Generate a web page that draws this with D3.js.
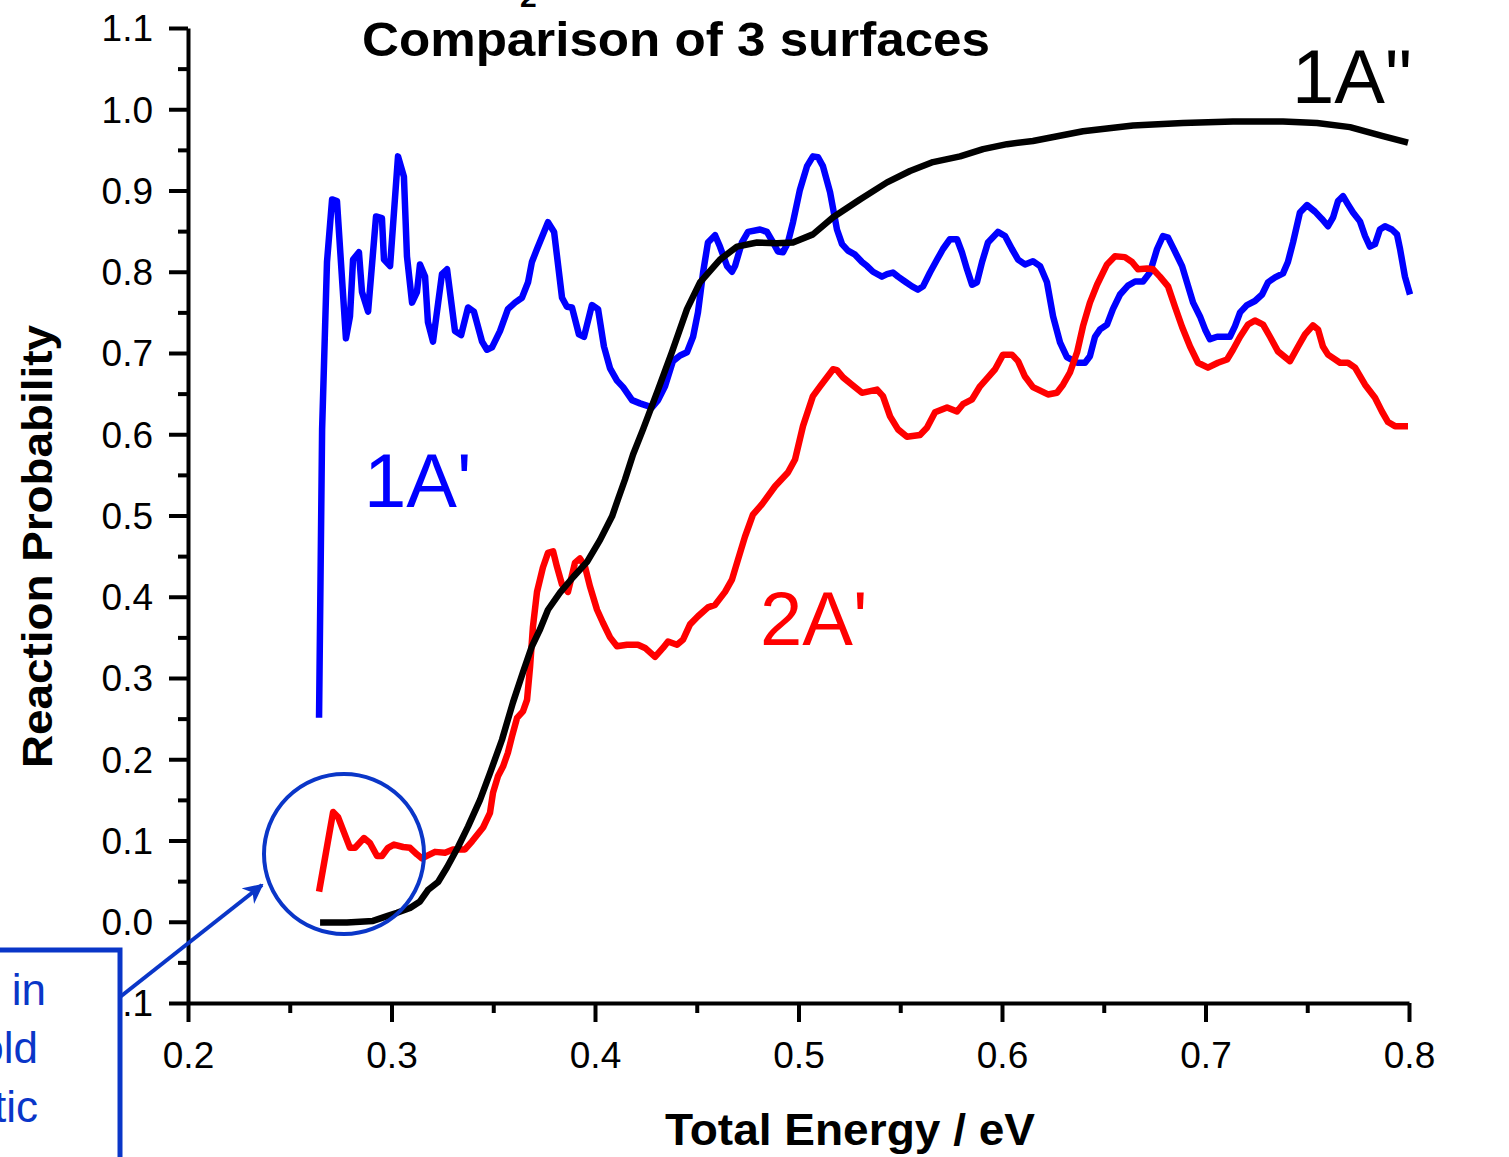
<!DOCTYPE html>
<html>
<head>
<meta charset="utf-8">
<script src="https://cdn.jsdelivr.net/npm/d3@7"></script>
<style>
  html, body { margin: 0; padding: 0; background: #fff; }
  svg { display: block; }
  text { font-family: "Liberation Sans", Arial, Helvetica, sans-serif; }
</style>
</head>
<body>
<svg id="chart" width="1509" height="1157"></svg>
<script>
// Reaction probability vs total energy (eV) on three potential surfaces
const surf1Aprime = [
  [0.2644,0.251],[0.2659,0.606],[0.2683,0.812],[0.2708,0.889],[0.2732,0.887],[0.2776,0.718],
  [0.2796,0.745],[0.2811,0.815],[0.2840,0.824],[0.2855,0.775],[0.2885,0.751],[0.2924,0.868],
  [0.2953,0.866],[0.2963,0.815],[0.2993,0.807],[0.3032,0.942],[0.3061,0.917],[0.3076,0.819],
  [0.3101,0.762],[0.3125,0.775],[0.3140,0.809],[0.3165,0.794],[0.3179,0.738],[0.3204,0.714],
  [0.3248,0.797],[0.3273,0.803],[0.3312,0.727],[0.3342,0.722],[0.3376,0.756],[0.3405,0.751],
  [0.3445,0.714],[0.3469,0.704],[0.3494,0.707],[0.3533,0.727],[0.3572,0.754],[0.3607,0.762],
  [0.3641,0.768],[0.3671,0.787],[0.3690,0.812],[0.3715,0.828],[0.3769,0.861],[0.3799,0.849],
  [0.3838,0.768],[0.3862,0.757],[0.3887,0.756],[0.3921,0.723],[0.3946,0.720],[0.3985,0.759],
  [0.4015,0.754],[0.4044,0.708],[0.4074,0.681],[0.4108,0.666],[0.4138,0.658],[0.4182,0.642],
  [0.4221,0.638],[0.4280,0.633],[0.4310,0.642],[0.4344,0.659],[0.4383,0.690],[0.4418,0.697],
  [0.4452,0.701],[0.4482,0.720],[0.4506,0.750],[0.4531,0.799],[0.4555,0.836],[0.4590,0.845],
  [0.4614,0.831],[0.4649,0.807],[0.4673,0.800],[0.4688,0.807],[0.4722,0.836],[0.4752,0.849],
  [0.4811,0.852],[0.4845,0.849],[0.4875,0.836],[0.4899,0.825],[0.4924,0.824],[0.4948,0.836],
  [0.4973,0.861],[0.5007,0.901],[0.5042,0.930],[0.5071,0.942],[0.5096,0.941],[0.5120,0.930],
  [0.5155,0.898],[0.5189,0.852],[0.5214,0.834],[0.5243,0.826],[0.5278,0.821],[0.5312,0.812],
  [0.5337,0.807],[0.5366,0.800],[0.5410,0.794],[0.5435,0.797],[0.5464,0.799],[0.5489,0.794],
  [0.5523,0.788],[0.5558,0.782],[0.5587,0.778],[0.5612,0.782],[0.5646,0.799],[0.5681,0.815],
  [0.5710,0.828],[0.5744,0.840],[0.5779,0.840],[0.5803,0.824],[0.5828,0.803],[0.5853,0.784],
  [0.5877,0.787],[0.5902,0.812],[0.5931,0.836],[0.5980,0.849],[0.6015,0.844],[0.6049,0.828],
  [0.6079,0.815],[0.6113,0.809],[0.6152,0.813],[0.6187,0.807],[0.6221,0.787],[0.6251,0.745],
  [0.6285,0.713],[0.6319,0.695],[0.6369,0.688],[0.6408,0.688],[0.6432,0.696],[0.6457,0.720],
  [0.6482,0.729],[0.6516,0.735],[0.6545,0.754],[0.6580,0.772],[0.6619,0.783],[0.6654,0.788],
  [0.6693,0.788],[0.6727,0.799],[0.6762,0.828],[0.6791,0.844],[0.6816,0.842],[0.6840,0.830],
  [0.6885,0.807],[0.6909,0.787],[0.6939,0.762],[0.6973,0.745],[0.6998,0.729],[0.7022,0.717],
  [0.7057,0.720],[0.7086,0.720],[0.7120,0.720],[0.7145,0.733],[0.7170,0.750],[0.7204,0.759],
  [0.7243,0.764],[0.7278,0.772],[0.7307,0.787],[0.7342,0.793],[0.7381,0.798],[0.7405,0.812],
  [0.7430,0.836],[0.7464,0.873],[0.7499,0.882],[0.7538,0.874],[0.7572,0.865],[0.7602,0.856],
  [0.7627,0.867],[0.7651,0.887],[0.7676,0.893],[0.7700,0.883],[0.7725,0.873],[0.7759,0.862],
  [0.7784,0.844],[0.7808,0.831],[0.7833,0.834],[0.7857,0.852],[0.7882,0.856],[0.7916,0.852],
  [0.7941,0.846],[0.7956,0.828],[0.7980,0.794],[0.8005,0.772]
];

const surf2Aprime = [
  [0.2644,0.037],[0.2713,0.135],[0.2737,0.129],[0.2796,0.091],[0.2821,0.091],[0.2865,0.103],
  [0.2894,0.097],[0.2929,0.081],[0.2953,0.081],[0.2983,0.091],[0.3012,0.095],[0.3057,0.092],
  [0.3091,0.091],[0.3125,0.083],[0.3150,0.078],[0.3174,0.081],[0.3214,0.086],[0.3263,0.085],
  [0.3302,0.089],[0.3361,0.089],[0.3396,0.099],[0.3450,0.116],[0.3484,0.134],[0.3499,0.159],
  [0.3523,0.179],[0.3548,0.191],[0.3572,0.208],[0.3592,0.228],[0.3617,0.251],[0.3646,0.259],
  [0.3666,0.273],[0.3681,0.314],[0.3695,0.363],[0.3715,0.406],[0.3744,0.436],[0.3769,0.454],
  [0.3794,0.456],[0.3813,0.437],[0.3838,0.415],[0.3867,0.406],[0.3902,0.442],[0.3926,0.447],
  [0.3951,0.437],[0.3975,0.413],[0.4010,0.384],[0.4039,0.368],[0.4074,0.350],[0.4108,0.339],
  [0.4157,0.341],[0.4211,0.341],[0.4246,0.337],[0.4295,0.326],[0.4334,0.337],[0.4359,0.345],
  [0.4403,0.341],[0.4432,0.347],[0.4467,0.366],[0.4506,0.376],[0.4555,0.387],[0.4590,0.390],
  [0.4639,0.406],[0.4673,0.421],[0.4703,0.446],[0.4737,0.474],[0.4776,0.501],[0.4821,0.514],
  [0.4885,0.536],[0.4948,0.553],[0.4983,0.569],[0.5022,0.610],[0.5071,0.647],[0.5106,0.659],
  [0.5170,0.680],[0.5189,0.679],[0.5219,0.670],[0.5263,0.661],[0.5312,0.651],[0.5386,0.655],
  [0.5415,0.647],[0.5450,0.622],[0.5489,0.606],[0.5533,0.597],[0.5597,0.599],[0.5631,0.608],
  [0.5671,0.627],[0.5730,0.633],[0.5779,0.628],[0.5808,0.637],[0.5853,0.643],[0.5892,0.659],
  [0.5931,0.670],[0.5966,0.680],[0.6005,0.698],[0.6049,0.698],[0.6079,0.690],[0.6113,0.671],
  [0.6152,0.658],[0.6226,0.649],[0.6270,0.651],[0.6300,0.661],[0.6334,0.676],[0.6369,0.701],
  [0.6398,0.733],[0.6432,0.762],[0.6467,0.784],[0.6516,0.809],[0.6555,0.819],[0.6604,0.818],
  [0.6639,0.812],[0.6668,0.803],[0.6713,0.804],[0.6742,0.803],[0.6776,0.794],[0.6816,0.782],
  [0.6850,0.757],[0.6885,0.732],[0.6924,0.708],[0.6963,0.688],[0.7012,0.682],[0.7061,0.688],
  [0.7106,0.692],[0.7135,0.704],[0.7170,0.720],[0.7209,0.735],[0.7243,0.740],[0.7283,0.735],
  [0.7317,0.720],[0.7356,0.702],[0.7415,0.690],[0.7455,0.708],[0.7489,0.723],[0.7528,0.734],
  [0.7553,0.729],[0.7577,0.708],[0.7602,0.698],[0.7661,0.688],[0.7700,0.688],[0.7735,0.682],
  [0.7784,0.661],[0.7833,0.645],[0.7867,0.628],[0.7897,0.615],[0.7931,0.610],[0.7995,0.610]
];

const surf1Adprime = [
  [0.2649,-0.001],[0.2781,-0.001],[0.2909,0.001],[0.2978,0.007],[0.3027,0.011],[0.3091,0.017],
  [0.3140,0.025],[0.3179,0.039],[0.3229,0.049],[0.3273,0.067],[0.3327,0.092],[0.3376,0.117],
  [0.3435,0.150],[0.3484,0.183],[0.3543,0.224],[0.3597,0.270],[0.3646,0.307],[0.3690,0.339],
  [0.3730,0.360],[0.3769,0.384],[0.3828,0.405],[0.3892,0.424],[0.3961,0.443],[0.4025,0.470],
  [0.4084,0.499],[0.4113,0.520],[0.4147,0.544],[0.4187,0.575],[0.4236,0.606],[0.4310,0.655],
  [0.4378,0.701],[0.4452,0.754],[0.4516,0.787],[0.4614,0.815],[0.4698,0.831],[0.4796,0.836],
  [0.4894,0.835],[0.4973,0.836],[0.5071,0.846],[0.5170,0.867],[0.5302,0.889],[0.5435,0.910],
  [0.5548,0.924],[0.5661,0.935],[0.5794,0.942],[0.5907,0.951],[0.6025,0.957],[0.6152,0.961],
  [0.6398,0.973],[0.6644,0.980],[0.6889,0.983],[0.7135,0.985],[0.7381,0.985],[0.7548,0.983],
  [0.7710,0.978],[0.7872,0.967],[0.7995,0.959]
];

const xTickValues = [0.2, 0.3, 0.4, 0.5, 0.6, 0.7, 0.8];
const yTickValues = [-0.1, 0.0, 0.1, 0.2, 0.3, 0.4, 0.5, 0.6, 0.7, 0.8, 0.9, 1.0, 1.1];
const xMinorValues = [0.25, 0.35, 0.45, 0.55, 0.65, 0.75];
const yMinorValues = [-0.05, 0.05, 0.15, 0.25, 0.35, 0.45, 0.55, 0.65, 0.75, 0.85, 0.95, 1.05];

const svg = d3.select("#chart");

const plot = { left: 188, right: 1409, top: 28, bottom: 1003 };
const x = d3.scaleLinear().domain([0.2, 0.8]).range([plot.left, plot.right]);
const y = d3.scaleLinear().domain([-0.1, 1.1]).range([plot.bottom, plot.top]);

const fmt = d3.format(".1f");
const tickFont = 37;

// Y axis: major and minor ticks
const yAxis = svg.append("g").attr("transform", `translate(${plot.left},0)`)
  .call(d3.axisLeft(y).tickValues(yTickValues).tickFormat(v => fmt(v).replace("−", "-"))
    .tickSize(19).tickSizeOuter(0).tickPadding(16));
svg.append("g").attr("transform", `translate(${plot.left},0)`)
  .call(d3.axisLeft(y).tickValues(yMinorValues).tickFormat("").tickSize(10).tickSizeOuter(0))
  .select(".domain").remove();

// X axis: major and minor ticks
const xAxis = svg.append("g").attr("transform", `translate(0,${plot.bottom})`)
  .call(d3.axisBottom(x).tickValues(xTickValues).tickFormat(fmt)
    .tickSize(19).tickSizeOuter(0).tickPadding(19));
svg.append("g").attr("transform", `translate(0,${plot.bottom})`)
  .call(d3.axisBottom(x).tickValues(xMinorValues).tickFormat("").tickSize(10).tickSizeOuter(0))
  .select(".domain").remove();

svg.selectAll(".domain").attr("stroke", "#000").attr("stroke-width", 4);
svg.selectAll(".tick line").attr("stroke", "#000").attr("stroke-width", 4);
svg.selectAll(".tick text")
  .attr("font-size", tickFont)
  .attr("font-family", "'Liberation Sans', Arial, sans-serif")
  .attr("fill", "#000");
yAxis.selectAll(".tick text").attr("dy", "0.35em");
xAxis.selectAll(".tick text").attr("dy", "0.72em");

// Curves
const line = d3.line().x(d => x(d[0])).y(d => y(d[1])).curve(d3.curveLinear);
const series = [
  { data: surf1Aprime, color: "#0000ff" },
  { data: surf2Aprime, color: "#ff0000" },
  { data: surf1Adprime, color: "#000000" }
];
svg.append("g").selectAll("path").data(series).join("path")
  .attr("d", d => line(d.data))
  .attr("fill", "none")
  .attr("stroke", d => d.color)
  .attr("stroke-width", 6.5)
  .attr("stroke-linejoin", "round");

// Surface labels
svg.append("text").attr("x", 364).attr("y", 507).attr("font-size", 76).attr("fill", "#0000ff").text("1A'");
svg.append("text").attr("x", 760).attr("y", 645).attr("font-size", 76).attr("fill", "#ff0000").text("2A'");
svg.append("text").attr("x", 1292).attr("y", 103).attr("font-size", 76).attr("fill", "#000").text("1A\"");

// Title (first line runs off the top edge)
svg.append("text").attr("x", 520).attr("y", 7).attr("font-size", 30).attr("font-weight", "bold").text("2");
svg.append("text").attr("x", 362).attr("y", 56).attr("font-size", 48).attr("font-weight", "bold")
  .attr("textLength", 628).attr("lengthAdjust", "spacingAndGlyphs").text("Comparison of 3 surfaces");

// Axis titles
svg.append("text").attr("x", 665).attr("y", 1145).attr("font-size", 44).attr("font-weight", "bold")
  .attr("textLength", 370).attr("lengthAdjust", "spacingAndGlyphs").text("Total Energy / eV");
svg.append("text").attr("transform", "translate(52,768) rotate(-90)")
  .attr("font-size", 42).attr("font-weight", "bold")
  .attr("textLength", 443).attr("lengthAdjust", "spacingAndGlyphs").text("Reaction Probability");

// Threshold annotation: circle, arrow and note box
const noteBlue = "#0a36c8";
svg.append("circle").attr("cx", 344).attr("cy", 854).attr("r", 80)
  .attr("fill", "none").attr("stroke", noteBlue).attr("stroke-width", 4);

svg.append("defs").append("marker")
  .attr("id", "head").attr("viewBox", "0 0 10 10").attr("refX", 9).attr("refY", 5)
  .attr("markerWidth", 5).attr("markerHeight", 5).attr("markerUnits", "strokeWidth")
  .attr("orient", "auto")
  .append("path").attr("d", "M0,0 L10,5 L0,10 L3,5 Z").attr("fill", noteBlue);
svg.append("line").attr("x1", 120).attr("y1", 997).attr("x2", 262).attr("y2", 885)
  .attr("stroke", noteBlue).attr("stroke-width", 4).attr("marker-end", "url(#head)");

svg.append("rect").attr("x", -20).attr("y", 950).attr("width", 140).attr("height", 240)
  .attr("fill", "#fff").attr("stroke", noteBlue).attr("stroke-width", 5);
const noteLines = [["Structure in", 46, 1005], ["the threshold", 38, 1063], ["is non-statistic", 38, 1122]];
svg.append("g").selectAll("text").data(noteLines).join("text")
  .attr("x", d => d[1]).attr("y", d => d[2])
  .attr("text-anchor", "end").attr("font-size", 44).attr("fill", noteBlue)
  .text(d => d[0]);
</script>
</body>
</html>
